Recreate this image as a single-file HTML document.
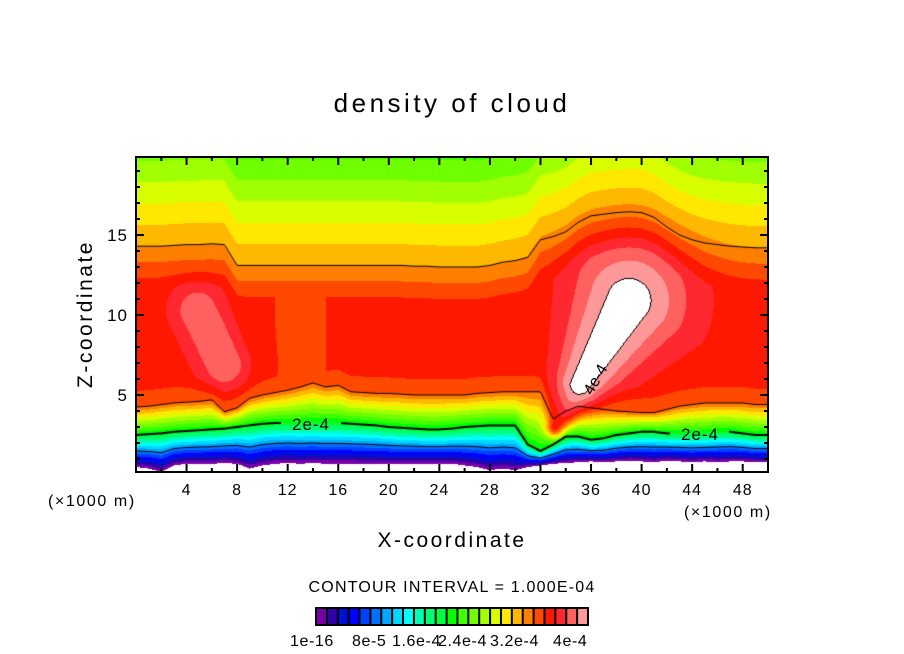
<!DOCTYPE html>
<html><head><meta charset="utf-8">
<style>
html,body{margin:0;padding:0;background:#fff;}
#wrap{position:relative;width:904px;height:654px;overflow:hidden;font-family:"Liberation Sans",sans-serif;}
#field{position:absolute;left:136px;top:157px;}
#over{position:absolute;left:0;top:0;}
</style></head>
<body>
<div id="wrap">
<canvas id="field" width="632" height="315"></canvas>
<svg id="over" width="904" height="654"></svg>
</div>
<script>
// ---- data (columns at x = 0,1,...,50 km) ----
const xCols = [0,1,2,3,4,5,6,7,8,9,10,11,12,13,14,15,16,17,18,19,20,21,22,23,24,25,26,27,28,29,30,31,32,33,34,35,36,37,38,39,40,41,42,43,44,45,46,47,48,49,50];
const zBottom = [0.5,0.4,0.2,0.6,0.7,0.7,0.7,0.75,0.7,0.4,0.6,0.7,0.75,0.7,0.75,0.7,0.7,0.7,0.7,0.7,0.7,0.7,0.7,0.7,0.7,0.7,0.6,0.5,0.3,0.4,0.3,0.5,0.6,0.7,0.75,0.8,0.85,0.8,0.85,0.9,0.85,0.8,0.9,0.85,0.8,0.85,0.8,0.85,0.85,0.8,0.8];
const z2e4 = [2.5,2.55,2.6,2.7,2.75,2.8,2.85,2.9,3.0,3.1,3.2,3.25,3.25,3.25,3.25,3.25,3.25,3.2,3.15,3.1,3.0,2.95,2.9,2.85,2.85,2.9,3.0,3.05,3.1,3.1,3.1,1.9,1.5,1.9,2.4,2.4,2.2,2.3,2.5,2.6,2.7,2.7,2.6,2.6,2.6,2.6,2.7,2.7,2.6,2.5,2.5];
const zLowerEdge = [4.25,4.3,4.4,4.5,4.55,4.6,4.7,3.95,4.2,4.8,5.0,5.15,5.3,5.5,5.75,5.5,5.6,5.2,5.15,5.1,5.1,5.05,5.0,5.0,5.0,5.0,5.0,5.1,5.15,5.2,5.2,5.2,5.2,3.5,4.0,4.3,4.2,4.1,4.0,3.95,3.9,3.9,4.1,4.3,4.4,4.5,4.5,4.5,4.5,4.4,4.4];
const zUpperEdge = [14.3,14.3,14.3,14.35,14.4,14.4,14.45,14.4,13.1,13.1,13.1,13.1,13.1,13.1,13.1,13.1,13.1,13.1,13.1,13.1,13.1,13.1,13.05,13.05,13.0,13.0,13.0,13.0,13.1,13.3,13.4,13.6,14.7,14.9,15.2,15.8,16.2,16.3,16.4,16.45,16.4,16.1,15.5,15.0,14.7,14.5,14.4,14.3,14.25,14.2,14.2];
const plateauLevel = [21.6,21.6,21.6,21.6,21.6,21.6,21.6,21.6,21.4,21.2,21.1,21.0,20.9,20.9,20.9,21.0,21.2,21.5,21.6,21.6,21.6,21.6,21.6,21.6,21.6,21.6,21.6,21.6,21.6,21.6,21.6,21.6,21.6,21.6,21.6,21.6,21.6,21.6,21.6,21.6,21.6,21.6,21.6,21.6,21.6,21.6,21.6,21.6,21.6,21.6,21.6];
// blobs: [x0,z0,x1,z1,peak]
const leftBlob = [4.9,10.3,7.0,6.9,24.0];
const plume = [33.2,3.0,39.0,10.9,25.6];
const palette = ["#7800a8","#3000a8","#0010d0","#0000ff","#0040ff","#0070ff","#00a8ff","#00d8ff","#00ffff","#00ffb0","#00ff70","#00ff40","#00ff00","#40ff00","#70ff00","#a0ff00","#d8ff00","#ffe800","#ffb800","#ff8000","#ff4800","#ff1800","#ff2830","#ff6060","#ff9898"];
const xTicks = [4,8,12,16,20,24,28,32,36,40,44,48];
const zTicks = [5,10,15];
const cbarLabels = ["1e-16","8e-5","1.6e-4","2.4e-4","3.2e-4","4e-4"];
const cbarLabelX = [290,352,392,438,490,553];

// ---- axes ----
const PL=136, PT=157, PW=632, PH=315;
function X(x){return PL + x*12.64;}
function Z(z){return 475 - z*16;}
function xOf(px){return (px - PL)/12.64;}
function zOf(py){return (475 - py)/16;}
function interp(arr,x){
  if(x<=0) return arr[0];
  if(x>=50) return arr[50];
  const i=Math.floor(x), f=x-i;
  return arr[i]*(1-f)+arr[i+1]*f;
}
function baseValue(x,z){
  const zb=interp(zBottom,x), a=interp(z2e4,x), b=interp(zLowerEdge,x), t=interp(zUpperEdge,x), pm=interp(plateauLevel,x);
  if(z<zb) return -1;
  if(z<a) return 12*(z-zb)/(a-zb);
  if(z<b) return 12+8*(z-a)/(b-a);
  const up=20+(z-b);
  const down = z<t ? 19+(t-z) : 19-0.75*(z-t);
  return Math.min(up,down,pm);
}
function segInfo(blob,px,py){
  const ax=X(blob[0]), ay=Z(blob[1]), bx=X(blob[2]), by=Z(blob[3]);
  const dx=bx-ax, dy=by-ay;
  let t=((px-ax)*dx+(py-ay)*dy)/(dx*dx+dy*dy);
  t=Math.max(0,Math.min(1,t));
  const cx=ax+t*dx, cy=ay+t*dy;
  return {t:t,d:Math.hypot(px-cx,py-cy)};
}
function value(px,py){
  const x=xOf(px), z=zOf(py);
  let v=baseValue(x,z);
  if(v<0) return v;
  let s=segInfo(leftBlob,px,py);
  let g=Math.exp(-Math.pow(s.d/24,2));
  v=Math.max(v, v+(leftBlob[4]-v)*g);
  s=segInfo(plume,px,py);
  const w=10+46*s.t;
  const pk=21.5+(plume[4]-21.5)*Math.max(0,Math.min(1,(s.t-0.05)/0.25));
  g=Math.exp(-Math.pow(s.d/w,2));
  v=Math.max(v, v+(pk-v)*g);
  return v;
}
function hex(c){return [parseInt(c.substr(1,2),16),parseInt(c.substr(3,2),16),parseInt(c.substr(5,2),16)];}
const rgb=palette.map(hex);

// ---- render field ----
const cv=document.getElementById('field');
const ctx=cv.getContext('2d');
const img=ctx.createImageData(PW,PH);
const vals=new Float32Array(PW*PH);
for(let j=0;j<PH;j++){
  for(let i=0;i<PW;i++){
    vals[j*PW+i]=value(PL+i+0.5,PT+j+0.5);
  }
}
for(let j=0;j<PH;j++){
  for(let i=0;i<PW;i++){
    const v=vals[j*PW+i];
    let c=[255,255,255];
    if(v>=0 && v<25) c=rgb[Math.min(24,Math.floor(v))];
    if(v>=25){
      const n=[[1,0],[-1,0],[0,1],[0,-1]];
      for(const [di,dj] of n){
        const ii=i+di, jj=j+dj;
        if(ii>=0&&ii<PW&&jj>=0&&jj<PH&&vals[jj*PW+ii]<25){c=[0,0,0];break;}
      }
    }
    const k=(j*PW+i)*4;
    img.data[k]=c[0];img.data[k+1]=c[1];img.data[k+2]=c[2];img.data[k+3]=255;
  }
}
ctx.putImageData(img,0,0);

function drawLine(fn,width,gaps){
  ctx.strokeStyle='#000';ctx.lineWidth=width;ctx.beginPath();
  let pen=false;
  for(let i=0;i<=PW;i++){
    const px=PL+i;
    const inGap=gaps.some(g=>px>=g[0]&&px<=g[1]);
    if(inGap){pen=false;continue;}
    const y=Z(fn(xOf(px)))-PT;
    if(!pen){ctx.moveTo(i,y);pen=true;} else ctx.lineTo(i,y);
  }
  ctx.stroke();
}
drawLine(x=>interp(z2e4,x),2,[[282,340],[671,728]]);
drawLine(x=>interp(zLowerEdge,x),1,[]);
drawLine(x=>interp(zUpperEdge,x),1,[]);
drawLine(x=>{const zb=interp(zBottom,x),a=interp(z2e4,x);return zb+(a-zb)*0.5;},1,[]);

// ---- overlay ----
const NS='http://www.w3.org/2000/svg';
const svg=document.getElementById('over');
function mk(tag,attrs,text){
  const e=document.createElementNS(NS,tag);
  for(const k in attrs) e.setAttribute(k,attrs[k]);
  if(text!==undefined) e.textContent=text;
  svg.appendChild(e);return e;
}
let e;
e=mk('text',{x:311,y:430,'font-size':17,'letter-spacing':1,'text-anchor':'middle',fill:'#000'},'2e-4');


e=mk('text',{x:700,y:440,'font-size':17,'letter-spacing':1,'text-anchor':'middle',fill:'#000'},'2e-4');


e=mk('text',{x:0,y:0,'font-size':16,'text-anchor':'middle',fill:'#000',transform:'translate(600,382) rotate(-60)'},'4e-4');


e=mk('rect',{x:PL,y:PT,width:PW,height:PH,fill:'none',stroke:'#000','stroke-width':2});


for(let x=2;x<50;x+=2){
  const major=xTicks.includes(x), L=major?8:4, px=X(x);
  e=mk('line',{x1:px,y1:PT+PH,x2:px,y2:PT+PH-L,stroke:'#000','stroke-width':2});
  
  
  e=mk('line',{x1:px,y1:PT,x2:px,y2:PT+L,stroke:'#000','stroke-width':2});
  
  
}
xTicks.forEach(x=>{
  e=mk('text',{x:X(x),y:495,'font-size':16,'letter-spacing':1,'text-anchor':'middle',fill:'#000'},String(x));
  
  
});
for(let z=1;z<20;z++){
  const major=zTicks.includes(z), L=major?8:4, py=Z(z);
  e=mk('line',{x1:PL,y1:py,x2:PL+L,y2:py,stroke:'#000','stroke-width':2});
  
  
  e=mk('line',{x1:PL+PW,y1:py,x2:PL+PW-L,y2:py,stroke:'#000','stroke-width':2});
  
  
}
zTicks.forEach(z=>{
  e=mk('text',{x:128,y:Z(z)+6,'font-size':17,'letter-spacing':1,'text-anchor':'end',fill:'#000'},String(z));
  
  
});
e=mk('text',{x:48,y:506,'font-size':16,'letter-spacing':1.6,fill:'#000'},'(×1000 m)');


e=mk('text',{x:684,y:517,'font-size':16,'letter-spacing':1.6,fill:'#000'},'(×1000 m)');


e=mk('text',{x:452,y:112,'font-size':26,'letter-spacing':3.5,'text-anchor':'middle',fill:'#000'},'density of cloud');


e=mk('text',{x:452,y:547,'font-size':21,'letter-spacing':2.5,'text-anchor':'middle',fill:'#000'},'X-coordinate');


e=mk('text',{x:0,y:0,'font-size':21,'letter-spacing':2.5,'text-anchor':'middle',fill:'#000',transform:'translate(92,314) rotate(-90)'},'Z-coordinate');


e=mk('text',{x:452,y:592,'font-size':16,'letter-spacing':1.2,'text-anchor':'middle',fill:'#000'},'CONTOUR INTERVAL = 1.000E-04');


e=mk('rect',{x:315,y:607,width:274,height:19,fill:'#000'});


const bw=272/palette.length;
palette.forEach((c,i)=>{
  e=mk('rect',{x:316+i*bw+1,y:609,width:bw-2,height:15,fill:c});
  
  
});
cbarLabels.forEach((t,i)=>{
  e=mk('text',{x:cbarLabelX[i],y:646,'font-size':16,'letter-spacing':0.6,fill:'#000'},t);
  
  
});
</script>
</body></html>
